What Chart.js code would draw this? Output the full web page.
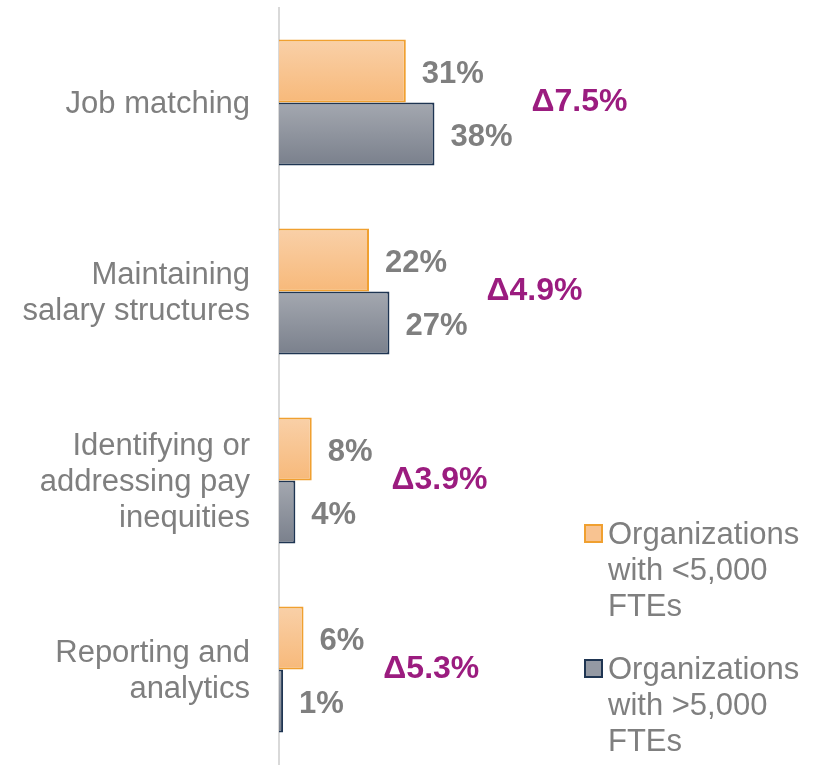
<!DOCTYPE html>
<html>
<head>
<meta charset="utf-8">
<script src="https://cdn.jsdelivr.net/npm/chart.js@4/dist/chart.umd.min.js"></script>
<style>
  body { margin: 0; background: #fff; }
  #wrap { width: 819px; height: 770px; position: relative; }
</style>
</head>
<body>
<div id="wrap"><canvas id="chart"></canvas></div>
<script>
const categories = [
  ["Job matching"],
  ["Maintaining", "salary structures"],
  ["Identifying or", "addressing pay", "inequities"],
  ["Reporting and", "analytics"]
];
const smallOrgs = [31, 22, 8, 6];   // <5,000 FTEs
const largeOrgs = [38, 27, 4, 1];   // >5,000 FTEs
const deltaLabels = ["\u03947.5%", "\u03944.9%", "\u03943.9%", "\u03945.3%"];
const seriesNames = [
  ["Organizations", "with <5,000", "FTEs"],
  ["Organizations", "with >5,000", "FTEs"]
];

const FONT = "'Liberation Sans', Arial, sans-serif";
const GREY_TEXT = "#7f7f7f";
const PURPLE = "#9b1c7f";
const CAT_PCT = 0.667;

// vertical gradient fitted to each bar
function barGradient(top, bottom) {
  return function (ctx) {
    const chart = ctx.chart;
    const y = chart.scales.y;
    if (!y || ctx.dataIndex === undefined) return top;
    const center = y.getPixelForValue(ctx.dataIndex);
    const band = Math.abs(y.getPixelForValue(1) - y.getPixelForValue(0));
    if (!isFinite(center) || !isFinite(band) || band === 0) return top;
    const half = band * CAT_PCT / 2;
    const y0 = ctx.datasetIndex === 0 ? center - half : center;
    const g = chart.ctx.createLinearGradient(0, y0, 0, y0 + half);
    g.addColorStop(0, top);
    g.addColorStop(1, bottom);
    return g;
  };
}

const barLabels = {
  id: "barLabels",
  afterDatasetsDraw(chart) {
    const c = chart.ctx;
    c.save();
    c.textBaseline = "middle";
    c.textAlign = "left";
    const metas = [chart.getDatasetMeta(0), chart.getDatasetMeta(1)];
    categories.forEach((cat, i) => {
      let rightMost = 0;
      c.font = "bold 31px " + FONT;
      metas.forEach((meta, d) => {
        const bar = meta.data[i];
        const txt = chart.data.datasets[d].data[i] + "%";
        c.fillStyle = GREY_TEXT;
        c.fillText(txt, bar.x + 16, bar.y + 3);
        rightMost = Math.max(rightMost, bar.x + 16 + c.measureText(txt).width);
      });
      const cy = chart.scales.y.getPixelForValue(i);
      c.font = "bold 32px " + FONT;
      c.fillStyle = PURPLE;
      c.fillText(deltaLabels[i], rightMost + 19, cy);
    });
    c.restore();
  }
};

const sideLegend = {
  id: "sideLegend",
  afterDraw(chart) {
    const c = chart.ctx;
    c.save();
    const styles = [
      { fill: "#f8c391", stroke: "#f0a030", top: 525 },
      { fill: "#9499a3", stroke: "#1f3552", top: 660 }
    ];
    styles.forEach((s, k) => {
      c.fillStyle = s.fill;
      c.strokeStyle = s.stroke;
      c.lineWidth = 2;
      c.fillRect(585, s.top, 17, 17);
      c.strokeRect(585, s.top, 17, 17);
      c.fillStyle = GREY_TEXT;
      c.font = "31px " + FONT;
      c.textBaseline = "middle";
      c.textAlign = "left";
      seriesNames[k].forEach((line, j) => {
        c.fillText(line, 608, s.top + 10 + j * 36);
      });
    });
    c.restore();
  }
};

new Chart(document.getElementById("chart"), {
  type: "bar",
  data: {
    labels: categories,
    datasets: [
      {
        label: seriesNames[0].join(" "),
        data: smallOrgs,
        backgroundColor: barGradient("#f9d0a8", "#f7b97a"),
        borderColor: "#f0a030",
        borderWidth: 2,
        borderSkipped: "left"
      },
      {
        label: seriesNames[1].join(" "),
        data: largeOrgs,
        backgroundColor: barGradient("#a4a8b0", "#7a808c"),
        borderColor: "#1f3552",
        borderWidth: 2,
        borderSkipped: "left"
      }
    ]
  },
  options: {
    indexAxis: "y",
    responsive: true,
    maintainAspectRatio: false,
    animation: false,
    barPercentage: 1,
    categoryPercentage: CAT_PCT,
    layout: { padding: { top: 8, bottom: 6, left: 0, right: 0 } },
    scales: {
      x: { display: false, min: 0, max: 132 },
      y: {
        grid: { display: false, drawTicks: false },
        border: { display: true, color: "#d9d9d9", width: 2 },
        ticks: {
          color: GREY_TEXT,
          padding: 29,
          labelOffset: 2,
          font: { family: FONT, size: 31, lineHeight: 1.17 }
        },
        afterFit(scale) {
          scale.width = 279;
          scale.paddingTop = 0;
          scale.paddingBottom = 0;
        }
      }
    },
    plugins: {
      legend: { display: false },
      tooltip: { enabled: false }
    }
  },
  plugins: [barLabels, sideLegend]
});
</script>
</body>
</html>
